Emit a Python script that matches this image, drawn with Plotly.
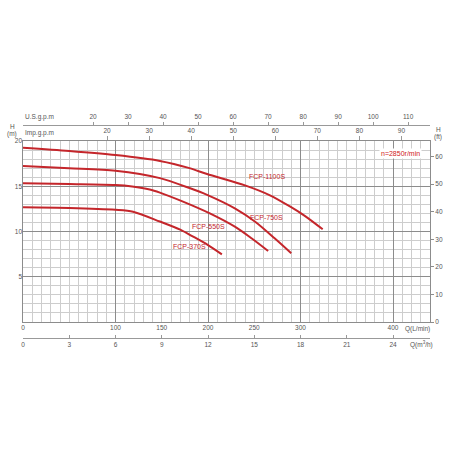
import plotly.graph_objects as go

# pump curves, Q in L/min, H in m
q_1100 = [0, 50, 100, 148, 180, 199, 240, 267, 289, 305, 324]
h_1100 = [19.26, 18.9, 18.45, 17.8, 17.0, 16.35, 15.1, 14.0, 12.74, 11.7, 10.24]

q_750 = [0, 50, 100, 148, 180, 199, 229, 251, 272, 290]
h_750 = [17.24, 17.0, 16.72, 15.9, 14.8, 14.05, 12.56, 11.08, 9.25, 7.6]

q_550 = [0, 50, 100, 118, 137, 148, 173, 202, 229, 247, 265]
h_550 = [15.33, 15.25, 15.14, 14.98, 14.65, 14.3, 13.3, 12.0, 10.53, 9.25, 7.85]

q_370 = [0, 50, 100, 119, 148, 170, 184, 200, 215]
h_370 = [12.67, 12.6, 12.4, 12.19, 11.1, 10.2, 9.43, 8.5, 7.48]

curve_names = ["FCP-1100S", "FCP-750S", "FCP-550S", "FCP-370S"]
# label anchor points (Q, H)
label_q = [264, 263, 200, 180]
label_h = [16.1, 11.6, 10.5, 8.3]

lpm_ticks = [0, 100, 150, 200, 250, 300, 400]
m3h_ticks = [0, 3, 6, 9, 12, 15, 18, 21, 24]
usgpm_ticks = [20, 30, 40, 50, 60, 70, 80, 90, 100, 110]
impgpm_ticks = [20, 30, 40, 50, 60, 70, 80, 90]
ft_ticks = [0, 10, 20, 30, 40, 50, 60]
m_ticks = [5, 10, 15, 20]

q_max = 440
h_max = 20

red = "#c4262b"
txt = "#555555"
font = dict(family="Liberation Sans, Arial", size=6.5, color=txt)
label_font = dict(family="Liberation Sans, Arial", size=7, color=red)

fig = go.Figure()
for q, h, name in zip([q_1100, q_750, q_550, q_370],
                      [h_1100, h_750, h_550, h_370], curve_names):
    fig.add_trace(go.Scatter(x=q, y=h, mode="lines", name=name,
                             line=dict(color=red, width=2, shape="spline", smoothing=0.8),
                             xaxis="x", yaxis="y", hoverinfo="skip"))

# invisible traces so the extra scale axes get drawn
for xa, ya in [("x2", "y"), ("x3", "y"), ("x4", "y"), ("x5", "y"), ("x", "y2"), ("x", "y3")]:
    fig.add_trace(go.Scatter(x=[1], y=[1], xaxis=xa, yaxis=ya, mode="markers",
                             marker=dict(opacity=0), hoverinfo="skip"))

# px -> paper helpers (plot paper: x 23..430, y 105..350)
def px(x):
    return (x - 23) / 407

def py(y):
    return (350 - y) / 245

ydom = [py(322), py(141)]
grid_major = "#8c8c8c"
grid_minor = "#cdcdcd"
scale_line = "#999999"

fig.update_layout(
    template="none",
    width=450, height=450,
    margin=dict(l=23, r=20, t=105, b=100),
    paper_bgcolor="white", plot_bgcolor="white",
    showlegend=False,
    font=font,
    xaxis=dict(range=[0, q_max], domain=[0, 1], anchor="y", automargin=False,
               tickmode="linear", tick0=0, dtick=100, showticklabels=False,
               showgrid=True, gridcolor=grid_major, gridwidth=1,
               minor=dict(dtick=10, tick0=0, showgrid=True, gridcolor=grid_minor, gridwidth=1),
               showline=True, linecolor=grid_major, mirror=True, zeroline=False, ticks=""),
    yaxis=dict(range=[0, h_max], domain=ydom, anchor="x", automargin=False,
               tickmode="array", tickvals=[5, 10, 15], showticklabels=False,
               showgrid=True, gridcolor=grid_major, gridwidth=1,
               minor=dict(dtick=1, tick0=0, showgrid=True, gridcolor=grid_minor, gridwidth=1),
               showline=True, linecolor=grid_major, mirror=True, zeroline=False, ticks=""),
    # left H(m) labels
    yaxis2=dict(range=[0, h_max], overlaying="y", side="left", anchor="x", automargin=False,
                tickmode="array", tickvals=m_ticks, showgrid=False, zeroline=False,
                showline=False, ticks="", tickfont=font),
    # right H(ft)
    yaxis3=dict(range=[0, h_max / 0.3048], overlaying="y", side="right", anchor="x",
                automargin=False, tickmode="array", tickvals=ft_ticks, showgrid=False,
                zeroline=False, showline=False, ticks="outside", ticklen=3,
                tickcolor=grid_major, tickfont=font),
    # Q L/min labels
    xaxis2=dict(range=[0, q_max], overlaying="x", side="bottom", anchor="y", automargin=False,
                tickmode="array", tickvals=lpm_ticks, showgrid=False, zeroline=False,
                showline=False, ticks="", tickfont=font),
    # Q m3/h
    xaxis3=dict(range=[0, q_max * 0.06], overlaying="x", side="bottom", anchor="free",
                position=py(338), automargin=False, tickmode="array", tickvals=m3h_ticks,
                showgrid=False, zeroline=False, showline=True, linecolor=scale_line,
                ticks="inside", ticklen=3, tickcolor=scale_line, tickfont=font),
    # U.S. gpm
    xaxis4=dict(range=[0, q_max / 3.78541], overlaying="x", side="top", anchor="free",
                position=py(125), automargin=False, tickmode="array", tickvals=usgpm_ticks,
                showgrid=False, zeroline=False, showline=True, linecolor=scale_line,
                ticks="outside", ticklen=3, tickcolor=scale_line, tickfont=font),
    # Imp gpm
    xaxis5=dict(range=[0, q_max / 4.54609], overlaying="x", side="top", anchor="y",
                automargin=False, tickmode="array", tickvals=impgpm_ticks, showgrid=False,
                zeroline=False, showline=False, ticks="outside", ticklen=4,
                tickcolor=scale_line, tickfont=font),
)

annos = []
for name, lq, lh in zip(curve_names, label_q, label_h):
    annos.append(dict(x=lq, y=lh, xref="x", yref="y", text=name, showarrow=False,
                      xanchor="center", yanchor="middle", font=label_font))

side_text = [
    ("U.S.g.p.m", px(23), py(117), "left"),
    ("Imp.g.p.m", px(23), py(133), "left"),
    ("H", px(12), py(126), "center"),
    ("(m)", px(12), py(134), "center"),
    ("H", px(438), py(129), "center"),
    ("(ft)", px(438), py(137), "center"),
    ("Q(L/min)", px(417), py(329), "center"),
    ("Q(m<sup>3</sup>/h)", px(421), py(344), "center"),
]
for t, x, y, xa in side_text:
    annos.append(dict(x=x, y=y, xref="paper", yref="paper", text=t, showarrow=False,
                      xanchor=xa, yanchor="middle", font=font))

annos.append(dict(x=px(400), y=py(153), xref="paper", yref="paper", text="n=2850r/min",
                  showarrow=False, xanchor="center", yanchor="middle", bgcolor="white",
                  font=dict(label_font, color="#d02020")))

fig.update_layout(annotations=annos)

# drop the default page margin so the figure sits at the window corner
fig.write_html("out.html", config={"displayModeBar": False},
               post_script="document.body.style.margin='0';")
